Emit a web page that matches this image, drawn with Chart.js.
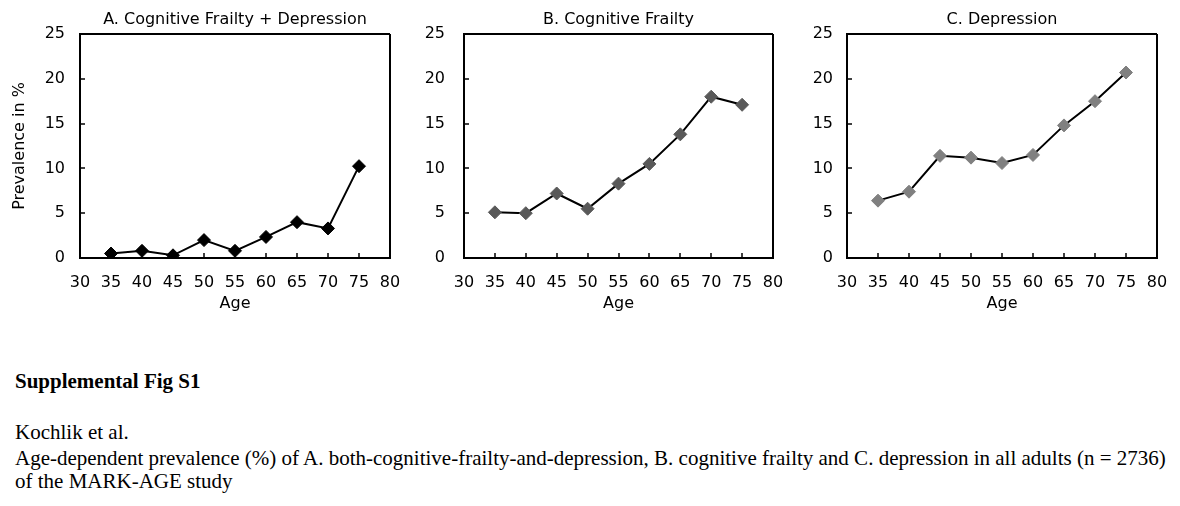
<!DOCTYPE html>
<html>
<head>
<meta charset="utf-8">
<script src="https://cdn.jsdelivr.net/npm/chart.js@4.4.1/dist/chart.umd.min.js"></script>
<style>
  html, body { margin: 0; padding: 0; background: #fff; }
  body { width: 1180px; height: 506px; position: relative; overflow: hidden; }
  canvas { position: absolute; top: 0; }
  .cap { position: absolute; left: 15px; font-family: "Liberation Serif", "Times New Roman", serif; font-size: 21px; color: #000; white-space: nowrap; line-height: 24px; }
</style>
</head>
<body>
<canvas id="panelA" width="424" height="313" style="left:0px"></canvas>
<canvas id="panelB" width="397" height="313" style="left:410px"></canvas>
<canvas id="panelC" width="391" height="313" style="left:800px"></canvas>

<div class="cap" style="top:369px;font-weight:bold">Supplemental Fig S1</div>
<div class="cap" style="top:420px">Kochlik et al.</div>
<div class="cap" style="top:446px">Age-dependent prevalence (%) of A. both-cognitive-frailty-and-depression, B. cognitive frailty and C. depression in all adults (n = 2736)</div>
<div class="cap" style="top:469px">of the MARK-AGE study</div>

<script>
    // 연령 구간 (x축)
    const ages = [35, 40, 45, 50, 55, 60, 65, 70, 75];

    // 각 패널의 유병률 (%) - 그림에서 읽은 값
    const bothValues = [0.5, 0.8, 0.3, 2.0, 0.8, 2.35, 4.0, 3.3, 10.25];
    const frailtyValues = [5.1, 5.0, 7.2, 5.5, 8.3, 10.5, 13.8, 18.0, 17.1];
    const depressionValues = [6.4, 7.4, 11.4, 11.2, 10.6, 11.5, 14.8, 17.5, 20.7];

    // 축 범위 / 눈금
    const xMin = 30, xMax = 80, xStep = 5;
    const yMin = 0, yMax = 25, yStep = 5;

    const axisFont = { family: "'DejaVu Sans', Verdana, sans-serif", size: 16 };

    function makePanel(canvasId, title, values, markerColor, yTitle, yWidth, yPad) {
        const ctx = document.getElementById(canvasId).getContext('2d');
        return new Chart(ctx, {
            type: 'line',
            data: {
                datasets: [{
                    data: ages.map((a, i) => ({ x: a, y: values[i] })),
                    borderColor: '#000',
                    borderWidth: 2,
                    pointStyle: 'rectRot',
                    pointRadius: 6.5,
                    pointBackgroundColor: markerColor,
                    pointBorderColor: markerColor,
                    pointBorderWidth: 1,
                    tension: 0
                }]
            },
            options: {
                responsive: false,
                animation: false,
                // 오른쪽 여백은 마지막 x 라벨 + 라벨 패딩보다 커야 함
                layout: { padding: { left: 0, right: 34, top: 0, bottom: 0 } },
                plugins: {
                    legend: { display: false },
                    tooltip: { enabled: false }
                },
                scales: {
                    // 위쪽 빈 축은 패널 제목 용도
                    top: {
                        type: 'linear',
                        position: 'top',
                        display: true,
                        ticks: { display: false },
                        grid: { display: false, drawTicks: false },
                        border: { display: false },
                        title: { display: true, text: title, color: '#000', font: axisFont, padding: { top: 10, bottom: 6 } },
                        afterFit: s => { s.height = 34; }
                    },
                    x: {
                        type: 'linear',
                        position: 'bottom',
                        min: xMin,
                        max: xMax,
                        ticks: { stepSize: xStep, padding: 20, color: '#000', font: axisFont, autoSkip: false, maxRotation: 0 },
                        grid: {
                            color: c => (c.tick && c.tick.value === xMax) ? '#000' : 'rgba(0,0,0,0)', // 오른쪽 테두리만
                            lineWidth: 2,
                            tickColor: '#000',
                            tickWidth: 1.5,
                            tickLength: -5 // 안쪽 눈금
                        },
                        border: { color: '#000', width: 2 },
                        title: { display: true, text: 'Age', color: '#000', font: axisFont, padding: { top: 4, bottom: 0 } },
                        afterFit: s => { s.height = 55; }
                    },
                    y: {
                        min: yMin,
                        max: yMax,
                        ticks: { stepSize: yStep, padding: yPad, color: '#000', font: axisFont },
                        grid: {
                            color: c => (c.tick && c.tick.value === yMax) ? '#000' : 'rgba(0,0,0,0)', // 위쪽 테두리만
                            lineWidth: 2,
                            tickColor: '#000',
                            tickWidth: 1.5,
                            tickLength: -5
                        },
                        border: { color: '#000', width: 2 },
                        title: { display: !!yTitle, text: yTitle, color: '#000', font: axisFont, padding: { top: 10, bottom: 0 } },
                        afterFit: s => { s.width = yWidth; }
                    }
                }
            }
        });
    }

    makePanel('panelA', 'A. Cognitive Frailty + Depression', bothValues, '#000000', 'Prevalence in %', 80, 20);
    makePanel('panelB', 'B. Cognitive Frailty', frailtyValues, '#595959', '', 54, 24);
    makePanel('panelC', 'C. Depression', depressionValues, '#808080', '', 47, 19);
</script>
</body>
</html>
